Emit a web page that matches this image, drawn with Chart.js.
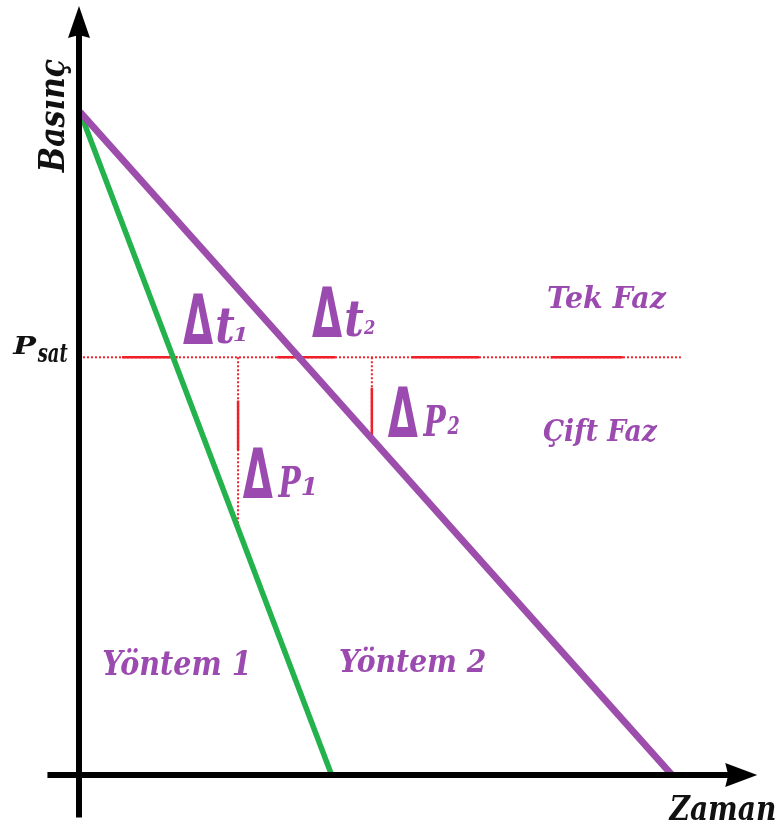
<!DOCTYPE html>
<html>
<head>
<meta charset="utf-8">
<script src="https://cdn.jsdelivr.net/npm/chart.js@4.4.1/dist/chart.umd.min.js"></script>
<style>
  html, body { margin: 0; padding: 0; background: #ffffff; }
  #c { display: block; }
</style>
</head>
<body>
<canvas id="c" width="776" height="826"></canvas>
<script>
// Pressure vs. time for two depletion paths crossing the saturation pressure.
const method1Time = [0, 4.25];
const method1Pressure = [10, 0];
const method2Time = [0, 10];
const method2Pressure = [10, 0];
const pSat = 6.3;

// Psat reference: dotted over its full extent, with solid red stretches
const satLineRange = [0.05, 10.15];
const satSolidStretches = [[0.71, 1.65], [3.33, 4.31], [5.6, 6.74], [7.95, 9.17]];

// Δ markers: vertical drop from Psat down to each path
const dropTimes = [2.67, 4.93];
const dropEnds = [3.78, 5.07];
const dropSolid = [[5.65, 4.9], [5.84, 5.07]];

// Axis extents (time, pressure)
const timeAxis = [-0.55, 11.44];
const pressureAxis = [-0.64, 11.6];

const PURPLE = '#9d4dab';
const TEXT_PURPLE = '#9b4baf';
const GREEN = '#23b24b';
const RED = '#f0202a';
const INK = '#111111';

const pts = (xs, ys) => xs.map((x, i) => ({ x, y: ys[i] }));
const satSolidData = satSolidStretches.flatMap(([a, b]) => [
  { x: a, y: pSat }, { x: b, y: pSat }, { x: b, y: null }
]);
const dropDottedData = dropTimes.flatMap((t, i) => [
  { x: t, y: pSat }, { x: t, y: dropEnds[i] }, { x: t, y: null }
]);
const dropSolidData = dropTimes.flatMap((t, i) => [
  { x: t, y: dropSolid[i][0] }, { x: t, y: dropSolid[i][1] }, { x: t, y: null }
]);

// Text drawn into an ink box: left edge / baseline in data units, width & ascent in px
function fitText(ctx, text, family, weight, x, base, w, h, color) {
  ctx.save();
  const size = Math.max(6, Math.round(h / 0.73));
  ctx.font = weight + ' ' + size + 'px ' + family;
  ctx.textAlign = 'left';
  ctx.textBaseline = 'alphabetic';
  const m = ctx.measureText(text);
  const inkW = m.actualBoundingBoxLeft + m.actualBoundingBoxRight;
  const inkH = m.actualBoundingBoxAscent;
  ctx.translate(x, base);
  ctx.scale(w / inkW, h / inkH);
  ctx.fillStyle = color;
  ctx.fillText(text, m.actualBoundingBoxLeft, 0);
  ctx.restore();
}

const SERIF = '"DejaVu Serif", "Liberation Serif", serif';
const SANS = '"DejaVu Sans", "Liberation Sans", sans-serif';

const textLabels = [
  { text: 'Tek Faz',  t: 7.905, p: 7.04,  w: 119, h: 24, color: TEXT_PURPLE },
  { text: 'Çift Faz', t: 7.82,  p: 5.04,  w: 115, h: 24, color: TEXT_PURPLE },
  { text: 'Yöntem 1', t: 0.39,  p: 1.51,  w: 144, h: 27, color: TEXT_PURPLE },
  { text: 'Yöntem 2', t: 4.39,  p: 1.55,  w: 146, h: 25, color: TEXT_PURPLE },
  { text: 'P',        t: -1.149, p: 6.35, w: 25,  h: 17, color: INK },
  { text: 'sat',      t: -0.726, p: 6.23, w: 31,  h: 18, color: INK },
  { text: 'Zaman',    t: 9.93,  p: -0.68, w: 107, h: 25, color: INK }
];

const deltaLabels = [
  { t: 1.74, p: 6.50, main: 't', sub: '1' },
  { t: 3.92, p: 6.61, main: 't', sub: '2' },
  { t: 2.75, p: 4.18, main: 'P', sub: '1' },
  { t: 5.20, p: 5.10, main: 'P', sub: '2' }
];

const axesPlugin = {
  id: 'arrowAxes',
  afterDatasetsDraw(chart) {
    const { ctx, scales: { x, y } } = chart;
    const x0 = x.getPixelForValue(0);
    const y0 = y.getPixelForValue(0);
    ctx.save();
    ctx.strokeStyle = '#000';
    ctx.fillStyle = '#000';
    ctx.lineWidth = 6;
    ctx.lineCap = 'butt';
    // time axis
    const xa = x.getPixelForValue(timeAxis[0]);
    const xb = x.getPixelForValue(timeAxis[1]);
    ctx.beginPath();
    ctx.moveTo(xa, y0);
    ctx.lineTo(xb - 20, y0);
    ctx.stroke();
    ctx.beginPath();
    ctx.moveTo(xb, y0);
    ctx.lineTo(xb - 32, y0 - 12);
    ctx.lineTo(xb - 29, y0);
    ctx.lineTo(xb - 32, y0 + 12);
    ctx.closePath();
    ctx.fill();
    // pressure axis
    const ya = y.getPixelForValue(pressureAxis[0]);
    const yb = y.getPixelForValue(pressureAxis[1]);
    ctx.beginPath();
    ctx.moveTo(x0 - 1, ya);
    ctx.lineTo(x0 - 1, yb + 20);
    ctx.stroke();
    ctx.beginPath();
    ctx.moveTo(x0 - 1, yb);
    ctx.lineTo(x0 - 12, yb + 32);
    ctx.lineTo(x0 - 1, yb + 29);
    ctx.lineTo(x0 + 10, yb + 32);
    ctx.closePath();
    ctx.fill();
    ctx.restore();
  }
};

const labelsPlugin = {
  id: 'diagramLabels',
  afterDraw(chart) {
    const { ctx, scales: { x, y } } = chart;
    textLabels.forEach(l => {
      fitText(ctx, l.text, SERIF, 'italic bold',
        x.getPixelForValue(l.t), y.getPixelForValue(l.p), l.w, l.h, l.color);
    });
    deltaLabels.forEach(l => {
      const px = x.getPixelForValue(l.t);
      const py = y.getPixelForValue(l.p);
      fitText(ctx, 'Δ', SANS, 'bold', px, py, 30, 51, TEXT_PURPLE);
      if (l.main === 't') {
        fitText(ctx, 't', SERIF, 'italic bold', px + 34, py - 1, 18, 34, TEXT_PURPLE);
        fitText(ctx, l.sub, SERIF, 'italic bold', px + 51, py - 3, 12, 14, TEXT_PURPLE);
      } else {
        fitText(ctx, 'P', SERIF, 'italic bold', px + 35, py - 1, 24, 31, TEXT_PURPLE);
        fitText(ctx, l.sub, SERIF, 'italic bold', px + 59, py - 3, 13, 17, TEXT_PURPLE);
      }
    });
    // vertical axis title
    ctx.save();
    ctx.translate(x.getPixelForValue(-0.27), y.getPixelForValue(9.08));
    ctx.rotate(-Math.PI / 2);
    fitText(ctx, 'Basınç', SERIF, 'italic bold', 0, 0, 114, 26, INK);
    ctx.restore();
  }
};

const lineDefaults = { showLine: true, pointRadius: 0, pointHoverRadius: 0, borderCapStyle: 'butt', spanGaps: false, fill: false };

new Chart(document.getElementById('c'), {
  type: 'scatter',
  data: {
    datasets: [
      { ...lineDefaults, label: 'Yöntem 2', order: 0, data: pts(method2Time, method2Pressure), borderColor: PURPLE, borderWidth: 7 },
      { ...lineDefaults, label: 'Yöntem 1', order: 1, data: pts(method1Time, method1Pressure), borderColor: GREEN, borderWidth: 5.5 },
      { ...lineDefaults, label: 'Psat solid', order: 2, data: satSolidData, borderColor: RED, borderWidth: 2.5 },
      { ...lineDefaults, label: 'Δ solid', order: 3, data: dropSolidData, borderColor: RED, borderWidth: 2.5 },
      { ...lineDefaults, label: 'Psat', order: 4, data: pts(satLineRange, [pSat, pSat]), borderColor: RED, borderWidth: 2, borderDash: [2, 2] },
      { ...lineDefaults, label: 'Δ dotted', order: 5, data: dropDottedData, borderColor: RED, borderWidth: 2, borderDash: [2, 2] }
    ]
  },
  options: {
    responsive: false,
    animation: false,
    events: [],
    layout: { padding: 0 },
    plugins: { legend: { display: false }, tooltip: { enabled: false } },
    scales: {
      x: { type: 'linear', display: false, min: -80 / 59.2, max: 696 / 59.2 },
      y: { type: 'linear', display: false, min: -51 / 66.3, max: 775 / 66.3 }
    }
  },
  plugins: [axesPlugin, labelsPlugin]
});
</script>
</body>
</html>
